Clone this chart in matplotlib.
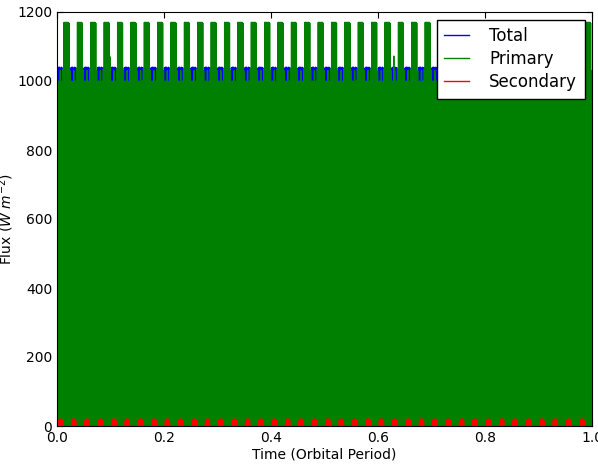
import matplotlib
matplotlib.use("Agg")
import matplotlib.pyplot as plt
import numpy as np

# rotations of the planet per orbit (counted from the red dots along the bottom)
N_CYCLES = 40
# upper envelope of each ~1 px column inside one rotation
total_profile = [1038, 1040, 1040, 1035, 1040, 1038, 1020, 1040, 1040, 1040, 1040, 1040, 1020, 1020]
primary_profile = [995, 1000, 990, 1030, 985, 1000, 1035, 1170, 1170, 1170, 1170, 1170, 1168, 1030]
secondary_profile = [0, 16, 20, 20, 20, 16, 0, 0, 0, 0, 0, 0, 0, 0]
# the few odd partial spikes of the primary
spike_time = [0.099, 0.44, 0.616, 0.629]
spike_flux = [1070, 1124, 1100, 1072]


def zigzag(profile):
    # every column is a sample at night (0) followed by one at the column's top value
    ncol = len(profile)
    n = N_CYCLES * ncol
    t = np.arange(n) / n
    high = np.tile(np.asarray(profile, dtype=float), N_CYCLES)
    times = np.empty(2 * n)
    vals = np.zeros(2 * n)
    times[0::2] = t
    times[1::2] = t + 0.5 / n
    vals[1::2] = high
    return times, vals, high


t_tot, f_tot, _ = zigzag(total_profile)
t_pri, f_pri, high_pri = zigzag(primary_profile)
t_sec, f_sec, _ = zigzag(secondary_profile)
for ts, fs in zip(spike_time, spike_flux):
    i = int(round(ts * len(high_pri)))
    f_pri[2 * i + 1] = max(f_pri[2 * i + 1], fs)

plt.rcParams["font.family"] = "DejaVu Sans"
plt.rcParams["xtick.direction"] = "in"
plt.rcParams["ytick.direction"] = "in"
plt.rcParams["xtick.top"] = True
plt.rcParams["ytick.right"] = True

fig = plt.figure(figsize=(5.98, 4.68), dpi=100)
ax = fig.add_axes([57 / 598, 42 / 468, 535 / 598, 414 / 468])
ax.plot(t_tot, f_tot, color="b", lw=1.0, label="Total")
ax.plot(t_pri, f_pri, color="g", lw=1.0, label="Primary")
ax.plot(t_sec, f_sec, color="r", lw=1.0, label="Secondary")
ax.set_xlim(0, 1)
ax.set_ylim(0, 1200)
ax.set_xticks(np.arange(0, 1.01, 0.2))
ax.set_yticks(np.arange(0, 1201, 200))
ax.tick_params(labelsize=10, length=4, width=0.8)
ax.set_xlabel("Time (Orbital Period)", fontsize=10, labelpad=2)
ax.set_ylabel(r"Flux ($W\ m^{-2}$)", fontsize=10, labelpad=0.5)
leg = ax.legend(loc="upper right", fontsize=12, handlelength=1.5, handletextpad=1.2,
                fancybox=False, framealpha=1, borderaxespad=0.45, labelspacing=0.3,
                borderpad=0.45)
leg.get_frame().set_edgecolor("black")
fig.savefig("out.png", dpi=100)
